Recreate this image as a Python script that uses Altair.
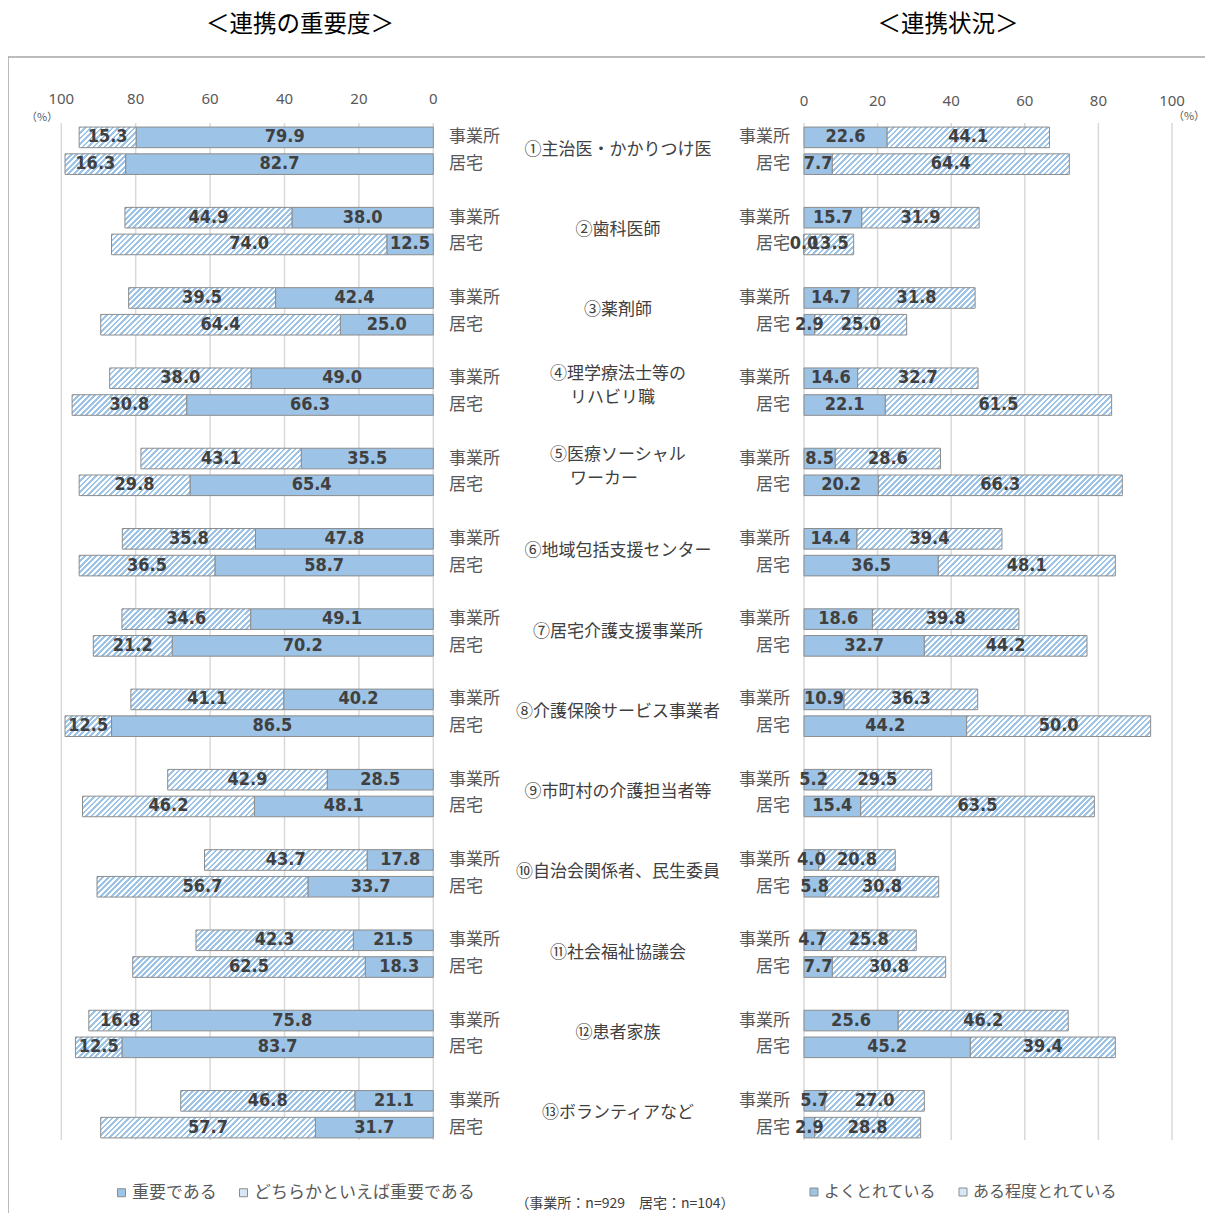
import altair as alt
import pandas as pd

# ---------------- data ----------------
categories = ["①主治医・かかりつけ医", "②歯科医師", "③薬剤師", "④理学療法士等の\nリハビリ職",
              "⑤医療ソーシャル\nワーカー", "⑥地域包括支援センター", "⑦居宅介護支援事業所",
              "⑧介護保険サービス事業者", "⑨市町村の介護担当者等", "⑩自治会関係者、民生委員",
              "⑪社会福祉協議会", "⑫患者家族", "⑬ボランティアなど"]
types = ["事業所", "居宅"]

# 連携の重要度
imp_office = [79.9, 38.0, 42.4, 49.0, 35.5, 47.8, 49.1, 40.2, 28.5, 17.8, 21.5, 75.8, 21.1]
imp_home = [82.7, 12.5, 25.0, 66.3, 65.4, 58.7, 70.2, 86.5, 48.1, 33.7, 18.3, 83.7, 31.7]
rather_office = [15.3, 44.9, 39.5, 38.0, 43.1, 35.8, 34.6, 41.1, 42.9, 43.7, 42.3, 16.8, 46.8]
rather_home = [16.3, 74.0, 64.4, 30.8, 29.8, 36.5, 21.2, 12.5, 46.2, 56.7, 62.5, 12.5, 57.7]

# 連携状況
good_office = [22.6, 15.7, 14.7, 14.6, 8.5, 14.4, 18.6, 10.9, 5.2, 4.0, 4.7, 25.6, 5.7]
good_home = [7.7, 0.0, 2.9, 22.1, 20.2, 36.5, 32.7, 44.2, 15.4, 5.8, 7.7, 45.2, 2.9]
some_office = [44.1, 31.9, 31.8, 32.7, 28.6, 39.4, 39.8, 36.3, 29.5, 20.8, 25.8, 46.2, 27.0]
some_home = [64.4, 13.5, 25.0, 61.5, 66.3, 48.1, 44.2, 50.0, 63.5, 30.8, 30.8, 39.4, 28.8]

left_kinds = ["重要である", "どちらかといえば重要である"]
right_kinds = ["よくとれている", "ある程度とれている"]
ticks = [0, 20, 40, 60, 80, 100]
title_left = "＜連携の重要度＞"
title_right = "＜連携状況＞"
note = "（事業所：n=929　居宅：n=104）"

# ---------------- style ----------------
JP = "Noto Sans CJK JP"
NUM = "Liberation Sans Narrow, DejaVu Sans Condensed, sans-serif"
BLUE = "#9dc3e6"
EDGE = "#8c8c8c"
GRID = "#d9d9d9"
TXT = "#595959"
W_ALL, H_ALL = 1197, 1156
Y0, Y1 = 67, 1084
XL = (425.3, 53.3)
XR = (796, 1164)
N_ROWS = 38
STEP = (Y1 - Y0) / N_ROWS
P_IN = 0.23
BAR_H = STEP * (1 - P_IN)

yscale = alt.Scale(domain=list(range(N_ROWS)), range=[Y0, Y1], paddingInner=P_IN, paddingOuter=P_IN / 2)
xls = alt.Scale(domain=[0, 100], range=list(XL), nice=False, zero=False)
xrs = alt.Scale(domain=[0, 100], range=list(XR), nice=False, zero=False)
pxu = {"L": abs(XL[0] - XL[1]) / 100, "R": abs(XR[1] - XR[0]) / 100}

# ---------------- table ----------------
recs = []
for i in range(len(categories)):
    for j, t in enumerate(types):
        row = 3 * i + j
        a = (imp_office if j == 0 else imp_home)[i]
        b = (rather_office if j == 0 else rather_home)[i]
        c = (good_office if j == 0 else good_home)[i]
        d = (some_office if j == 0 else some_home)[i]
        recs.append(dict(key=f"L_{i}_{j}_s", panel="L", seg="solid", kind=left_kinds[0], row=row, type=t, s=0.0, e=a, v=a))
        recs.append(dict(key=f"L_{i}_{j}_h", panel="L", seg="hatch", kind=left_kinds[1], row=row, type=t, s=a, e=round(a + b, 1), v=b))
        recs.append(dict(key=f"R_{i}_{j}_s", panel="R", seg="solid", kind=right_kinds[0], row=row, type=t, s=0.0, e=c, v=c))
        recs.append(dict(key=f"R_{i}_{j}_h", panel="R", seg="hatch", kind=right_kinds[1], row=row, type=t, s=c, e=round(c + d, 1), v=d))
df = pd.DataFrame(recs)
df["mid"] = (df["s"] + df["e"]) / 2

rows_df = pd.DataFrame([dict(row=3 * i + j, type=t) for i in range(len(categories)) for j, t in enumerate(types)])
cat_rows = []
for i, name in enumerate(categories):
    parts = name.split("\n")
    cat_rows.append(dict(row=3 * i, l1=parts[0], l2=parts[1] if len(parts) > 1 else "", two=len(parts) > 1))
cat_df = pd.DataFrame(cat_rows)
tick_df = pd.DataFrame(dict(t=ticks))
one = pd.DataFrame(dict(a=[0]))


def hatch(W, H, P=5.5, frac=0.5, color=BLUE):
    if W <= 0.5:
        return {"gradient": "linear", "stops": [{"offset": 0, "color": "white"}, {"offset": 1, "color": "white"}]}
    den = W * W + H * H
    x2 = (W + H) * W / den
    y2 = (W + H) * H / den
    n = (W + H) / P
    stops = []
    k = 0
    while k / n < 1:
        t0 = k / n
        t1 = min((k + frac) / n, 1.0)
        t2 = min((k + 1) / n, 1.0)
        stops += [{"offset": round(t0, 5), "color": color}, {"offset": round(t1, 5), "color": color},
                  {"offset": round(t1, 5), "color": "white"}, {"offset": round(t2, 5), "color": "white"}]
        k += 1
    return {"gradient": "linear", "x1": 0, "y1": 0, "x2": round(x2, 5), "y2": round(y2, 5), "stops": stops}


Y = alt.Y("row:O", scale=yscale, axis=None)
layers = []

# frame (top and left edges)
layers.append(alt.Chart(one).mark_rule(color="#a6a6a6", strokeWidth=1.5).encode(
    x=alt.value(0), x2=alt.value(W_ALL), y=alt.value(0)))
layers.append(alt.Chart(one).mark_rule(color="#a6a6a6", strokeWidth=1.5).encode(
    x=alt.value(0), y=alt.value(0), y2=alt.value(H_ALL)))

# grids and tick labels
for sc, ty in ((xls, 42), (xrs, 44)):
    layers.append(alt.Chart(tick_df).mark_rule(color=GRID, strokeWidth=1.5).encode(
        x=alt.X("t:Q", scale=sc, axis=None), y=alt.value(66), y2=alt.value(1083)))
    layers.append(alt.Chart(tick_df).mark_text(font="Noto Sans", fontSize=15, color=TXT).encode(
        x=alt.X("t:Q", scale=sc, axis=None), y=alt.value(ty), text="t:Q"))

# (%) labels and titles
layers.append(alt.Chart(one).mark_text(text="（%）", font=JP, fontSize=11, color=TXT).encode(
    x=alt.value(34), y=alt.value(61)))
layers.append(alt.Chart(one).mark_text(text="（%）", font=JP, fontSize=11, color=TXT).encode(
    x=alt.value(1181), y=alt.value(60)))
layers.append(alt.Chart(one).mark_text(text=title_left, font=JP, fontSize=23.5, color="#000000").encode(
    x=alt.value(292), y=alt.value(-32)))
layers.append(alt.Chart(one).mark_text(text=title_right, font=JP, fontSize=23.5, color="#000000").encode(
    x=alt.value(940), y=alt.value(-32)))

# solid bars with legends
leg_common = dict(orient="none", direction="horizontal", title=None, symbolType="square", symbolSize=64,
                  symbolStrokeColor=EDGE, symbolStrokeWidth=1, labelFont=JP, labelLimit=0,
                  labelColor=TXT, columnPadding=18, labelOffset=2, padding=0)
for panel, sc, kinds, lx, fs in (("L", xls, left_kinds, 105, 17), ("R", xrs, right_kinds, 798, 16)):
    layers.append(alt.Chart(df).transform_filter(
        (alt.datum.panel == panel) & (alt.datum.seg == "solid")).mark_bar(stroke=EDGE, strokeWidth=1).encode(
        x=alt.X("s:Q", scale=sc, axis=None), x2="e:Q", y=Y,
        fill=alt.Fill("kind:N", scale=alt.Scale(domain=kinds, range=[BLUE, "#d8e7f5"]),
                      legend=alt.Legend(legendX=lx, legendY=1127, labelFontSize=fs, **leg_common))))

# hatched bars (one layer per bar, hatch drawn as a striped gradient)
for _, r in df[df.seg == "hatch"].iterrows():
    sc = xls if r.panel == "L" else xrs
    W = (r.e - r.s) * pxu[r.panel]
    layers.append(alt.Chart(df).transform_filter(alt.datum.key == r.key).mark_bar(
        fill=hatch(W, BAR_H), stroke=EDGE, strokeWidth=1).encode(
        x=alt.X("s:Q", scale=sc, axis=None), x2="e:Q", y=Y))

# value labels
for panel, sc in (("L", xls), ("R", xrs)):
    layers.append(alt.Chart(df).transform_filter(alt.datum.panel == panel).mark_text(
        font=NUM, fontSize=18, fontWeight="bold", color="#404040").encode(
        x=alt.X("mid:Q", scale=sc, axis=None), y=Y, text=alt.Text("v:Q", format=".1f")))

# row labels
layers.append(alt.Chart(rows_df).mark_text(font=JP, fontSize=17, color=TXT, align="left").encode(
    x=alt.value(441), y=Y, text="type:N"))
layers.append(alt.Chart(rows_df).mark_text(font=JP, fontSize=17, color=TXT, align="right").encode(
    x=alt.value(782), y=Y, text="type:N"))

# category labels
layers.append(alt.Chart(cat_df).transform_filter("!datum.two").mark_text(
    font=JP, fontSize=17, color="#404040", align="center", dy=12.5).encode(
    x=alt.value(610), y=Y, text="l1:N"))
layers.append(alt.Chart(cat_df).transform_filter("datum.two").mark_text(
    font=JP, fontSize=17, color="#404040", align="left", dy=-4).encode(
    x=alt.value(542), y=Y, text="l1:N"))
layers.append(alt.Chart(cat_df).transform_filter("datum.two").mark_text(
    font=JP, fontSize=17, color="#404040", align="left", dy=20).encode(
    x=alt.value(562), y=Y, text="l2:N"))

# sample-size note
layers.append(alt.Chart(one).mark_text(text=note, font=JP, fontSize=14, color="#404040").encode(
    x=alt.value(617), y=alt.value(1147)))

chart = alt.layer(*layers).resolve_scale(x="independent", fill="independent").resolve_legend(
    fill="independent").properties(
    width=W_ALL, height=H_ALL, autosize="none",
    padding={"left": 0, "top": 49, "right": 0, "bottom": 0}).configure_view(strokeWidth=0)

chart.save("out.html", embed_options={"renderer": "svg", "actions": False})
